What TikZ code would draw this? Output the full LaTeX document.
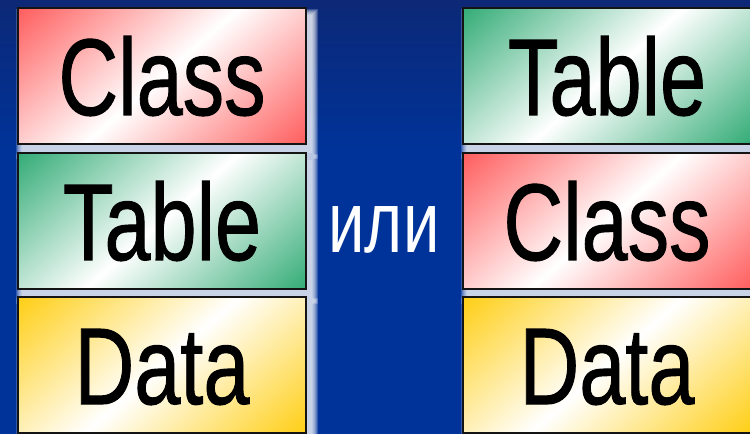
\documentclass[tikz,border=0pt]{standalone}
\usepackage{fontspec}
\setmainfont{Liberation Sans}
\newfontfamily\boxfont{Liberation Sans}[FakeBold=1.0]
\definecolor{bgblue}{RGB}{0,51,153}
\definecolor{bgtop}{RGB}{12,40,118}
\definecolor{cred}{RGB}{255,86,86}
\definecolor{cgreen}{RGB}{42,168,112}
\definecolor{cyellow}{RGB}{255,204,10}
\tikzset{
  glowlayer/.style={fill=white, fill opacity=0.2, draw=none},
  boxborder/.style={draw=black!92, line width=2pt},
  boxlabel/.style={anchor=base, font=\boxfont\fontsize{109}{120}\selectfont, text=black, inner sep=0pt},
  orlabel/.style={anchor=base, font=\fontsize{87}{96}\selectfont, text=white, inner sep=0pt},
}
% name, x0, y0 (bottom), width, colour, label
\newcommand\mybox[6]{%
  \foreach \r in {1,...,7} {\fill[glowlayer] (#2+5-\r, #3-8-\r) rectangle (#2+#4+5+\r, #3+136-8+\r);}
  \begin{scope}
    \clip (#2,#3) rectangle ++(#4,136);
    \shade[left color=#5, right color=#5, middle color=white, shading angle=41.4]
      (#2+144-153, #3+68-153) rectangle ++(306,306);
  \end{scope}
  \draw[boxborder] (#2,#3) rectangle ++(#4,136);
  \node[boxlabel] (#1) at (#2+144, #3+68-39) {\scalebox{0.76}[1]{#6}};
}
\begin{document}
\begin{tikzpicture}[x=1pt,y=1pt]
\useasboundingbox (0,0) rectangle (750,434);
\fill[bgblue] (0,0) rectangle (750,434);
\shade[top color=bgtop, bottom color=bgblue] (0,284) rectangle (750,434);
% left column
\mybox{lclass}{18}{290}{288}{cred}{Class}
\mybox{ltable}{18}{145}{288}{cgreen}{Table}
\mybox{ldata}{18}{1}{288}{cyellow}{Data}
% right column
\mybox{rtable}{463}{290}{290}{cgreen}{Table}
\mybox{rclass}{463}{145}{290}{cred}{Class}
\mybox{rdata}{463}{1}{290}{cyellow}{Data}
\node[orlabel] (ili) at (384,181) {\scalebox{0.75}[1]{или}};
\end{tikzpicture}
\end{document}
